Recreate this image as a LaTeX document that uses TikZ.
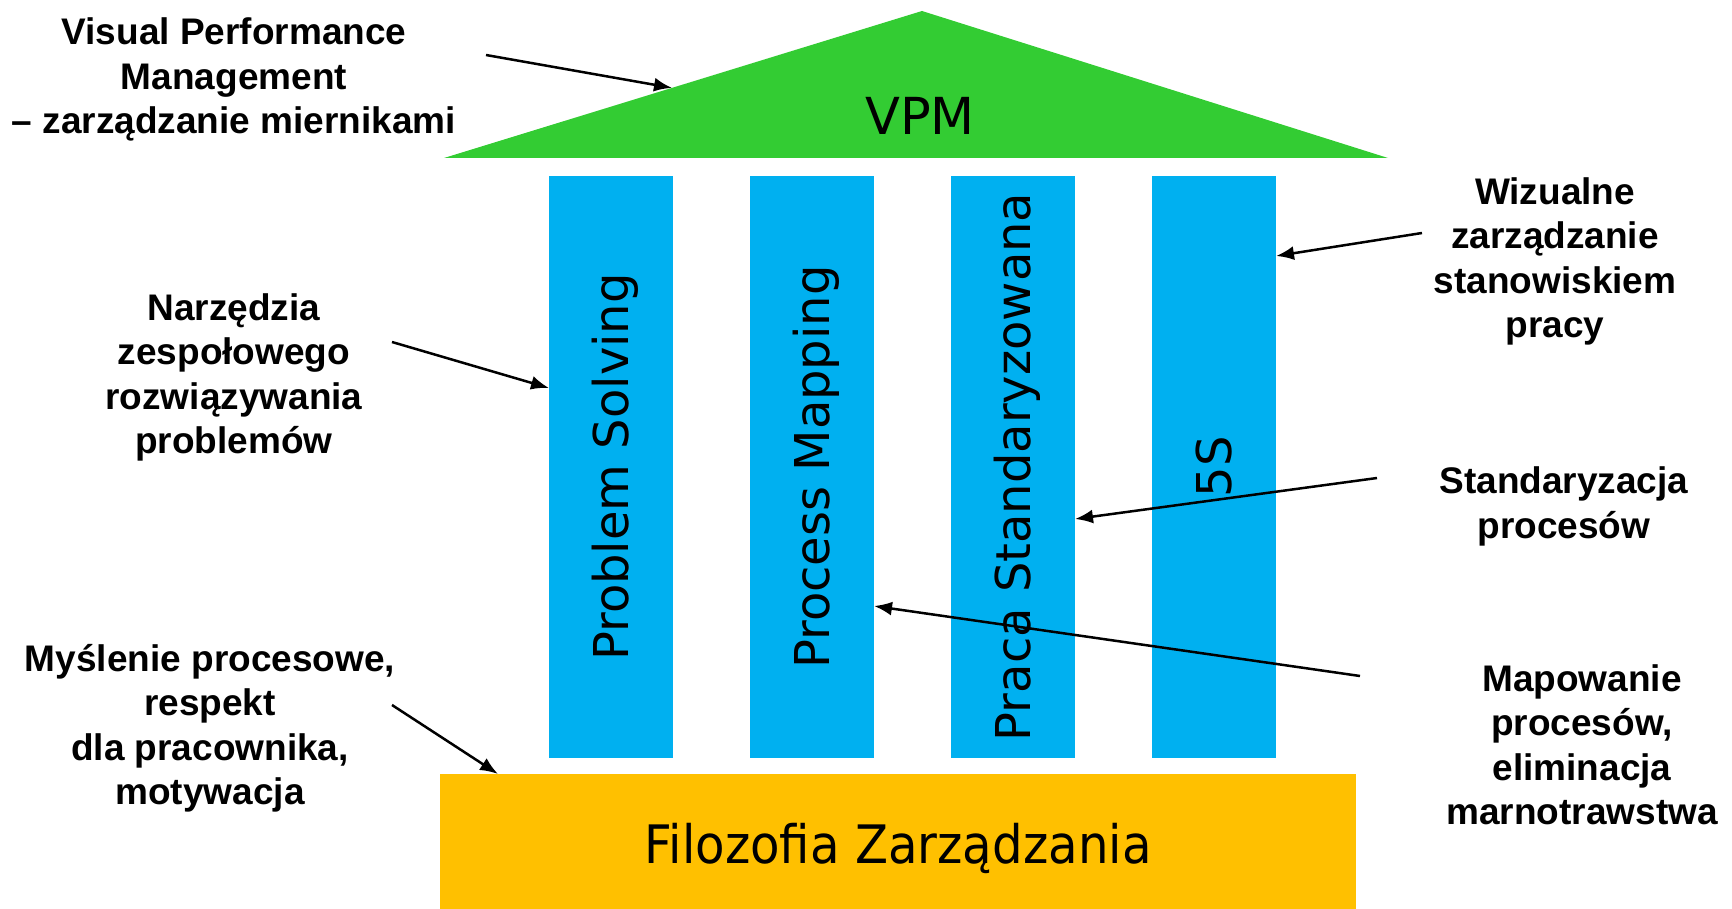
\documentclass[tikz,border=0pt]{standalone}
\usepackage{fontspec}
\setmainfont{Liberation Sans}
\newfontfamily\dvfont{DejaVu Sans}
\newfontfamily\dvcfont[FakeStretch=0.91]{DejaVu Sans}
\usetikzlibrary{arrows.meta,calc}
\definecolor{roofgreen}{RGB}{51,204,51}
\definecolor{pillarblue}{RGB}{0,176,240}
\definecolor{basegold}{RGB}{255,192,0}
\tikzset{
  pillar/.style={fill=pillarblue, minimum width=124pt, minimum height=582pt, inner sep=0pt, outer sep=0pt},
  pillartext/.style={rotate=90, font=\dvfont\fontsize{48}{56}\selectfont, inner sep=0pt, text height=35pt, text depth=0pt},
  sidelabel/.style={align=center, font=\bfseries\fontsize{37}{44.5}\selectfont, inner sep=0pt},
  arr/.style={line width=2.5pt, -{Latex[length=18pt,width=14pt]}},
}
\begin{document}
\begin{tikzpicture}[x=1pt,y=-1pt]
\useasboundingbox (0,0) rectangle (1732,909);
% roof
\coordinate (roofL) at (444,158);
\coordinate (roofT) at (922,11);
\coordinate (roofR) at (1388,158);
\fill[roofgreen] (roofL) -- (roofT) -- (roofR) -- cycle;
\node[font=\dvfont\fontsize{51}{60}\selectfont, inner sep=0pt] (vpm) at (920,116) {VPM};
\coordinate (vpmtip) at ($(roofL)!0.477!(roofT)$);
% pillars
\node[pillar] (p1) at (611,467) {};
\node[pillar] (p2) at (812,467) {};
\node[pillar] (p3) at (1013,467) {};
\node[pillar] (p4) at (1214,467) {};
\node[pillartext] (t1) at (p1) {Problem Solving};
\node[pillartext] (t2) at (p2) {Process Mapping};
\node[pillartext] (t3) at (p3) {Praca Standaryzowana};
\node[pillartext] (t4) at (p4) {5S};
% base
\node[fill=basegold, minimum width=916pt, minimum height=135pt, inner sep=0pt, outer sep=0pt] (base) at (898,841.5) {};
\node[font=\dvcfont\fontsize{53}{60}\selectfont, inner sep=0pt] (basetext) at (898,848) {Filozofia Zarządzania};
% labels
\node[sidelabel] (lvpm) at (234,79.5) {Visual Performance\\Management\\– zarządzanie miernikami};
\node[sidelabel] (lnarz) at (234,377.5) {Narzędzia\\zespołowego\\rozwiązywania\\problemów};
\node[sidelabel] (lmysl) at (210,728.5) {Myślenie procesowe,\\respekt\\dla pracownika,\\motywacja};
\node[sidelabel] (lwiz) at (1555,261.5) {Wizualne\\zarządzanie\\stanowiskiem\\pracy};
\node[sidelabel] (lstd) at (1564,506.5) {Standaryzacja\\procesów};
\node[sidelabel] (lmap) at (1582,745) {Mapowanie\\procesów,\\eliminacja\\marnotrawstwa};
% arrow tails
\coordinate (a1) at (486,55);
\coordinate (a2) at (392,342);
\coordinate (a3) at (1422,233);
\coordinate (a4) at (1377,478);
\coordinate (a5) at (1360,676);
\coordinate (a6) at (392,705);
\draw[arr] (a1) -- (vpmtip);
\draw[arr] (a2) -- (p1.west |- 0,388);
\draw[arr] (a3) -- (p4.east |- 0,256);
\draw[arr] (a4) -- (p3.east |- 0,519);
\draw[arr] (a5) -- (p2.east |- 0,606);
\draw[arr] (a6) -- (498,0 |- base.north);
\end{tikzpicture}
\end{document}
